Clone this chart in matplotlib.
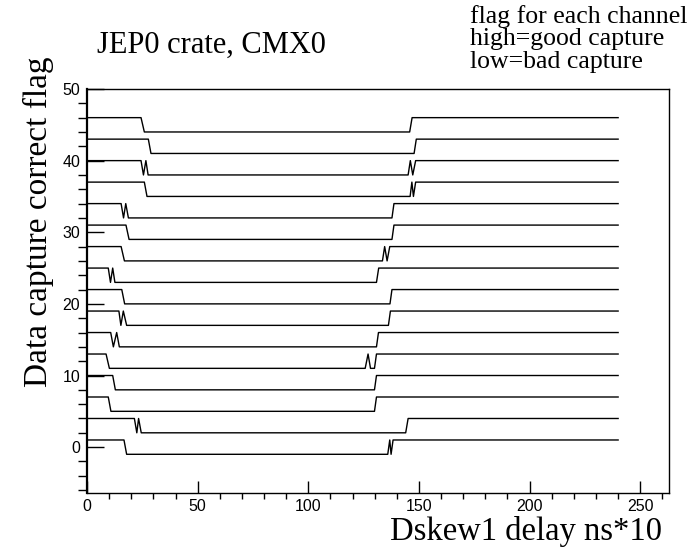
import numpy as np
import matplotlib.pyplot as plt
from matplotlib.ticker import MultipleLocator

# vertices of each channel's flag trace: delay (ns*10) and capture flag (1 good, 0 bad)
chan_x = [
    [0, 16.7, 17.9, 135.9, 136.8, 137.4, 138.3, 240],
    [0, 21.4, 22.5, 23.3, 24.5, 144.0, 145.1, 240],
    [0, 9.6, 10.8, 129.9, 130.8, 240],
    [0, 11.6, 12.8, 129.9, 130.8, 240],
    [0, 8.6, 10.1, 125.7, 127.0, 128.1, 129.9, 130.8, 240],
    [0, 10.7, 11.9, 13.4, 14.6, 130.8, 131.7, 240],
    [0, 14.4, 15.3, 16.4, 17.9, 136.2, 137.1, 240],
    [0, 15.7, 17.0, 136.9, 137.8, 240],
    [0, 9.6, 10.6, 11.6, 12.6, 130.8, 131.8, 240],
    [0, 15.4, 16.9, 133.5, 134.5, 135.6, 136.8, 240],
    [0, 17.6, 19.0, 137.8, 138.7, 240],
    [0, 15.4, 16.5, 17.5, 18.7, 137.8, 138.7, 240],
    [0, 25.9, 27.1, 146.0, 146.8, 147.5, 148.5, 240],
    [0, 24.4, 25.5, 26.6, 27.6, 145.1, 146.1, 147.2, 148.5, 240],
    [0, 27.7, 28.9, 147.8, 148.8, 240],
    [0, 24.4, 25.9, 145.8, 146.9, 240],
]
chan_flag = [
    [1, 1, 0, 0, 1, 0, 1, 1],
    [1, 1, 0, 1, 0, 0, 1, 1],
    [1, 1, 0, 0, 1, 1],
    [1, 1, 0, 0, 1, 1],
    [1, 1, 0, 0, 1, 0, 0, 1, 1],
    [1, 1, 0, 1, 0, 0, 1, 1],
    [1, 1, 0, 1, 0, 0, 1, 1],
    [1, 1, 0, 0, 1, 1],
    [1, 1, 0, 1, 0, 0, 1, 1],
    [1, 1, 0, 0, 1, 0, 1, 1],
    [1, 1, 0, 0, 1, 1],
    [1, 1, 0, 1, 0, 0, 1, 1],
    [1, 1, 0, 0, 1, 0, 1, 1],
    [1, 1, 0, 1, 0, 0, 1, 0, 1, 1],
    [1, 1, 0, 0, 1, 1],
    [1, 1, 0, 0, 1, 1],
]
note_lines = ["flag for each channel", "high=good capture", "low=bad capture"]

fig = plt.figure(figsize=(6.94, 5.48), dpi=100)
ax = fig.add_axes([0.1254, 0.1004, 0.8386, 0.7372])

for ch, (xs, fl) in enumerate(zip(chan_x, chan_flag)):
    y = 3 * ch + 2 * np.array(fl) - 1  # high = 3ch+1, low = 3ch-1
    ax.plot(xs, y, color='black', lw=1.0)

ax.set_xlim(0, 263)
ax.set_ylim(-6.4, 50)
ax.xaxis.set_major_locator(MultipleLocator(50))
ax.xaxis.set_minor_locator(MultipleLocator(10))
ax.yaxis.set_major_locator(MultipleLocator(10))
ax.yaxis.set_minor_locator(MultipleLocator(2))

ax.tick_params(direction='in', top=False, right=False, labelsize=11.5)
ax.tick_params(axis='y', which='major', length=12, width=1.0, pad=5)
ax.tick_params(axis='y', which='minor', length=6.5, width=1.0)
ax.tick_params(axis='x', which='major', length=8.5, width=1.0, pad=4)
ax.tick_params(axis='x', which='minor', length=4.3, width=1.0)
for lab in ax.get_xticklabels() + ax.get_yticklabels():
    lab.set_fontfamily('Liberation Sans')
for sp in ax.spines.values():
    sp.set_linewidth(1.0)
ax.spines['left'].set_linewidth(1.6)

serif = 'Liberation Serif'
fig.text(0.055, 0.595, "Data capture correct flag", fontfamily=serif,
         fontsize=24, rotation=90, ha='center', va='center')
fig.text(0.954, 0.031, "Dskew1 delay ns*10", fontfamily=serif, fontsize=23.5,
         ha='right', va='center')
fig.text(0.14, 0.918, "JEP0 crate, CMX0", fontfamily=serif, fontsize=22,
         ha='left', va='center')
for i, s in enumerate(note_lines):
    fig.text(0.677, 0.969 - i * 0.041, s, fontfamily=serif, fontsize=18.5,
             ha='left', va='center')

fig.savefig('out.png', dpi=100)
